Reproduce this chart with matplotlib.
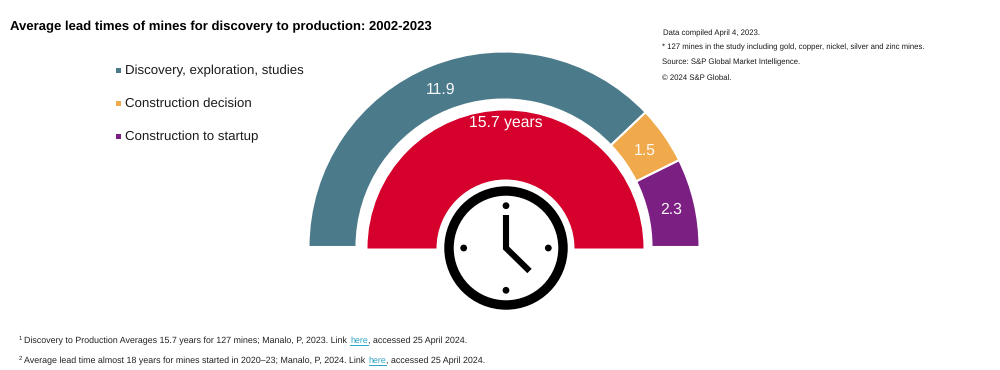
import matplotlib
matplotlib.use("Agg")
import matplotlib.pyplot as plt
from matplotlib.patches import Circle

plt.rcParams['font.family'] = ['Liberation Sans', 'DejaVu Sans']
plt.rcParams['text.hinting'] = 'none'
plt.rcParams['text.hinting_factor'] = 8

categories = ["Discovery, exploration, studies", "Construction decision", "Construction to startup"]
years = [11.9, 1.5, 2.3]
total_years = 15.7
colors = ["#4B7A8A", "#F0AA4C", "#7B2082"]
total_color = "#D5002B"
value_labels = ["11.9", "1.5", "2.3"]
title = "Average lead times of mines for discovery to production: 2002-2023"
notes = ["Data compiled April 4, 2023.",
         "* 127 mines in the study including gold, copper, nickel, silver and zinc mines.",
         "Source: S&P Global Market Intelligence.",
         "\u00a9 2024 S&P Global."]
foot1 = ["Discovery to Production Averages 15.7 years for 127 mines; Manalo, P, 2023. Link ", "here", ", accessed 25 April 2024."]
foot2 = ["Average lead time almost 18 years for mines started in 2020\u201323; Manalo, P, 2024. Link ", "here", ", accessed 25 April 2024."]

fig = plt.figure(figsize=(10, 3.7), dpi=100)
ax = fig.add_axes([0, 0, 1, 1])
H = 370
Y = lambda py: H - py

# outer gauge: hidden lower half balances the values
w, _ = ax.pie(years + [sum(years)], colors=colors + ["none"], startangle=180, counterclock=False,
              center=(504, Y(247)), radius=195.5, frame=False,
              wedgeprops=dict(width=48, linewidth=1.5))
for p in w[:3]:
    p.set_edgecolor("white")
w[3].set_visible(False)

# inner gauge
w2, _ = ax.pie([total_years, total_years], colors=[total_color, "none"], startangle=180, counterclock=False,
               center=(505.5, Y(248.5)), radius=138, frame=False,
               wedgeprops=dict(width=69, linewidth=0))
w2[1].set_visible(False)

ax.set_xlim(0, 1000)
ax.set_ylim(0, H)
ax.set_aspect("equal")
ax.axis("off")

# clock icon
cx, cy = 506, Y(248)
ax.add_patch(Circle((cx, cy), 66, fc="white", ec="none", zorder=3))
ax.add_patch(Circle((cx, cy), 57, fc="white", ec="black", lw=6.8, zorder=4))
for dx, dy in [(0, 42.3), (42.3, 0), (0, -42.3), (-42.3, 0)]:
    ax.add_patch(Circle((cx + dx, cy + dy), 3.4, fc="black", ec="none", zorder=5))
ax.plot([cx, cx, cx + 23.5], [cy + 33, cy, cy - 23], color="black", lw=4.4,
        solid_joinstyle="miter", solid_capstyle="butt", zorder=5)

# value labels
for s, (x, y) in zip(value_labels, [(441, 90), (645, 150.5), (671, 210)]):
    ax.text(x, Y(y), s, color="white", fontsize=11.3, ha="center", va="center", alpha=0.95)
ax.text(505.5, Y(122.5), f"{total_years} years", color="white", fontsize=11.3, ha="center", va="center", zorder=6)

# title and legend
ax.text(10.5, Y(27), title, fontsize=9.48, fontweight="bold", color="black", va="center")
for name, c, y in zip(categories, colors, [70, 103.5, 136.5]):
    ax.add_patch(plt.Rectangle((116, Y(y + 2.7)), 5, 5, fc=c, ec="none"))
    ax.text(125, Y(y + 0.5), name, fontsize=9.52, color="#1a1a1a", va="center")

# notes
for s, x, y in zip(notes, [663, 662, 662, 662], [33, 47.5, 62.5, 77.5]):
    ax.text(x, Y(y), s, fontsize=5.56, color="#1a1a1a", va="center")

# footnotes
fig.canvas.draw()
r = fig.canvas.get_renderer()
for mark, parts, y in [("1", foot1, 340.5), ("2", foot2, 360.5)]:
    ax.text(19, Y(y - 2), mark, fontsize=4.2, color="#222222", va="center")
    x = 24
    for i, s in enumerate(parts):
        col = "#2BA5C5" if i == 1 else "#222222"
        t = ax.text(x, Y(y), s, fontsize=6.4, color=col, va="center")
        wid = t.get_window_extent(r).width
        if s.endswith(" "):
            wid += 1
        if i == 1:
            ax.plot([x, x + wid], [Y(y + 4.5)] * 2, color=col, lw=0.7)
        x += wid

ax.set_xlim(0, 1000)
ax.set_ylim(0, H)
fig.savefig("out.png", dpi=100, facecolor="white")
